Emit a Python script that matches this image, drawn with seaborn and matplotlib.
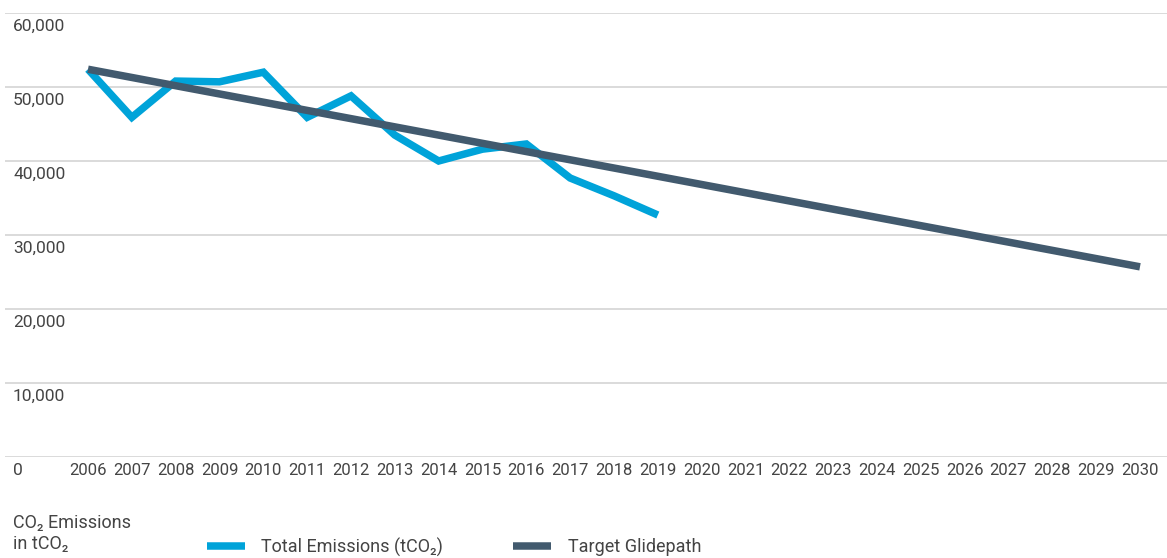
import pandas as pd
import seaborn as sns
import matplotlib.pyplot as plt
from matplotlib import transforms

# Valores (tCO2)
years = list(range(2006, 2020))
total_emissions = [52400, 45900, 50800, 50700, 52000, 45900, 48800,
                   43500, 40000, 41600, 42300, 37700, 35300, 32700]
target_years = [2006, 2030]
target_values = [52400, 25700]
year_labels = [str(y) for y in range(2006, 2031)]
y_ticks = [0, 10000, 20000, 30000, 40000, 50000, 60000]

label_total = "Total Emissions (tCO\u2082)"
label_target = "Target Glidepath"

df = pd.concat([
    pd.DataFrame({"year": years, "value": total_emissions, "serie": label_total}),
    pd.DataFrame({"year": target_years, "value": target_values, "serie": label_target}),
])

sns.set_style("white")
plt.rcParams["font.family"] = ["Roboto", "DejaVu Sans"]
text_color = "#444444"

fig = plt.figure(figsize=(11.67, 5.58), dpi=100)
ax = fig.add_axes([5 / 1167, 1 - 457 / 558, 1 - 5 / 1167, (457 - 13) / 558])

sns.lineplot(data=df, x="year", y="value", hue="serie",
             palette={label_total: "#00a3d9", label_target: "#425a6e"},
             linewidth=5.4, ax=ax, legend=True)
for line in ax.lines:
    line.set_solid_capstyle("butt")
    line.set_solid_joinstyle("miter")

ax.set_xlim(2006 - 83 / 43.83, 2030 + 27 / 43.83)
ax.set_ylim(0, 60000)
ax.set_xlabel("")
ax.set_ylabel("")
for s in ax.spines.values():
    s.set_visible(False)

# grade horizontal
ax.set_yticks(y_ticks)
ax.set_yticklabels([])
ax.tick_params(axis="y", length=0)
ax.grid(axis="y", color="#d4d4d4", linewidth=1.2)
ax.set_axisbelow(True)

# rótulos do eixo y abaixo de cada linha da grade
trans = transforms.blended_transform_factory(fig.transFigure, ax.transData)
offset = transforms.offset_copy(trans, fig=fig, x=0, y=-4, units="points")
for v in y_ticks:
    ax.text(13 / 1167, v, f"{v:,}", transform=offset, ha="left", va="top",
            fontsize=12.5, color=text_color)

ax.set_xticks(range(2006, 2031))
ax.set_xticklabels(year_labels, fontsize=12, color=text_color)
ax.tick_params(axis="x", length=0, pad=4)

# legenda
handles, labels = ax.get_legend_handles_labels()
ax.get_legend().remove()
fig.legend(handles, labels, loc="center left",
           bbox_to_anchor=(207 / 1167, 1 - 547 / 558), ncol=2, frameon=False,
           handlelength=2.1, handletextpad=0.9, columnspacing=3.9,
           borderpad=0, borderaxespad=0, fontsize=13, labelcolor=text_color)

fig.text(13 / 1167, 1 - 514 / 558, "CO\u2082 Emissions\nin tCO\u2082", ha="left", va="top",
         fontsize=13, color=text_color, linespacing=1.2)

fig.savefig("out.png", dpi=100)
